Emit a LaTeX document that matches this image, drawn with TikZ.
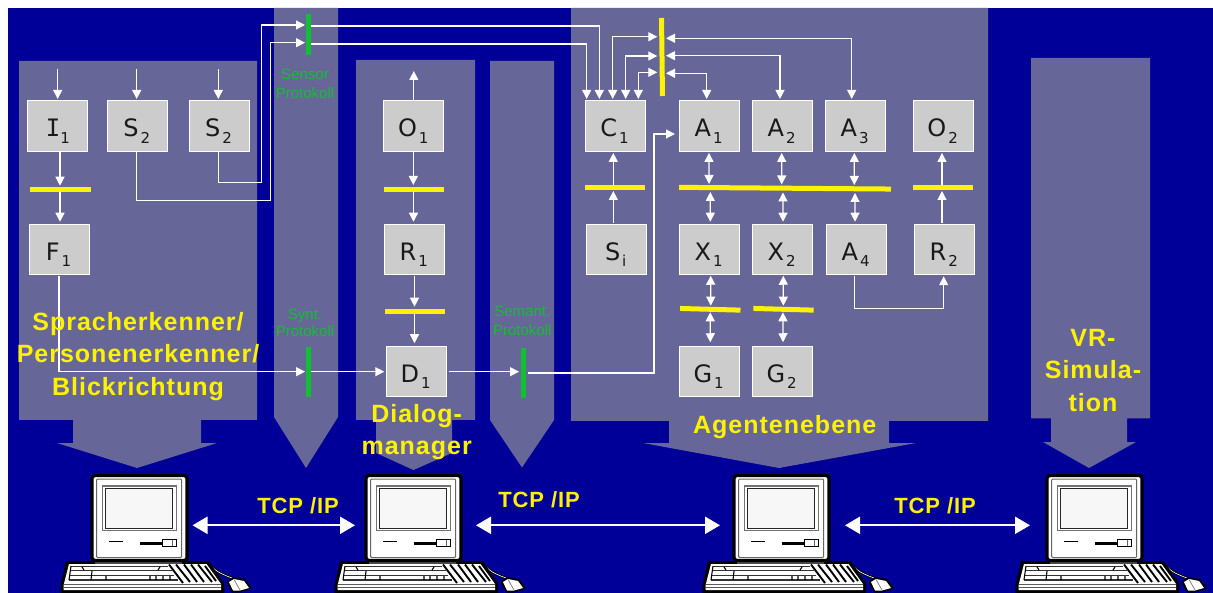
\documentclass[tikz,border=0pt]{standalone}
\usepackage{fontspec}
\setmainfont{Liberation Sans}
\newfontfamily\lblfont[LetterSpace=4]{Liberation Sans}
\newfontfamily\boxfont{DejaVu Sans}
\newfontfamily\boxmono{DejaVu Sans Mono}
\usetikzlibrary{arrows.meta,calc}
\definecolor{navy}{HTML}{000099}
\definecolor{panel}{HTML}{666699}
\definecolor{boxgrey}{HTML}{CCCCCC}
\definecolor{barg}{HTML}{10C030}
\definecolor{labg}{HTML}{14BE32}
\newcommand{\bxt}[2]{{\boxfont\fontsize{24}{24}\selectfont #1\raisebox{-6.7pt}{\kern2pt\fontsize{15}{15}\selectfont #2}\kern1pt}}
\newcommand{\pccomputer}[2]{%
\begin{scope}[xshift=#1pt]
 % mouse cord
 \draw[black,line width=2.4pt] (211,566) .. controls (218,573) and (224,575) .. (232,578);
 \draw[white,line width=.6pt] (211,566) .. controls (218,573) and (224,575) .. (232,578);
 % keyboard
 \fill[black] (66,561) -- (208.5,561) -- (224,583) -- (224,593) -- (60.5,593) -- (60.5,585) -- cycle;
 \fill[white] (69,564) -- (206.5,564) -- (221,584) -- (221,590) -- (63.5,590) -- (63.5,585.5) -- cycle;
 \draw[black!65,line width=1.2pt] (64,584.3) -- (221,584.3);
 \draw[black!65,line width=1.4pt] (63.5,587.6) -- (221,587.6);
 \draw[black!80,line width=1.3pt] (71,566.3) -- (168,566.3) (70.5,570.7) -- (172,570.7) (70,575.2) -- (174,575.2) (69,580) -- (178,580);
 \draw[black,line width=1.1pt] (71,566) -- (69,580);
 \draw[black,line width=1.1pt] (82,567) -- (84,570) (92,571) -- (91,580) (106,576) -- (106,580) (150,576) -- (150,580) (160,567) -- (158,570) (156,576) -- (156,580) (163,576) -- (163,580) (170,576) -- (170,580);
 \draw[black,line width=1.9pt] (169,564.5) -- (183,583) (176,564.5) -- (190,582) (184,564.5) -- (197,582) (191,564.5) -- (204,582) (198,564.5) -- (212,582) (205,566) -- (216,581);
 % mouse
 \fill[black] (226.5,582) -- (233,577) -- (245,579) -- (252,588.5) -- (240,592.5) -- (232,592.5) -- cycle;
 \fill[white] (229,582) -- (234,579) -- (244,581) -- (249,588) -- (240,590.5) -- (233,590.5) -- cycle;
 \draw[gray,line width=.8pt] (234,579.5) -- (240,590);
 % body
 \fill[black!70] (95,558) rectangle (182,564);
 \fill[white] (96,560) rectangle (181,562);
 \node[pcbody] (#2) at (139.5,518) {};
 \draw[black!60,line width=1pt,rounded corners=1pt] (96.7,479) rectangle (181.7,557.5);
 \draw[black!55,line width=1.6pt,fill=white] (102.5,486) rectangle (176.5,530.5);
 \draw[black!85,line width=1pt,fill=black!3] (105,488.3) rectangle (172.5,528);
 \draw[black,line width=1.4pt] (109.3,541.3) -- (123.3,541.3);
 \draw[black,line width=2.6pt] (140,543.3) -- (163,543.3);
 \draw[black,line width=1pt,fill=white] (162.7,539.5) rectangle (176.7,546);
 \draw[black!60,line width=1pt] (172.5,539.5) -- (172.5,546);
\end{scope}}
\tikzset{
 x=1pt,y=-1pt,
 boxnode/.style={draw=white,fill=boxgrey,line width=1pt,minimum width=60pt,minimum height=50.5pt,inner sep=0pt,outer sep=0pt,text=black!90,text height=25pt,text depth=3.6pt},
 ybar/.style={fill=yellow,inner sep=0pt,outer sep=0pt,minimum width=60.4pt,minimum height=5pt},
 gbar/.style={fill=barg,inner sep=0pt,outer sep=0pt,minimum width=5pt},
 conn/.style={draw=white,line width=1.25pt},
 arr/.style={conn,-{Triangle[length=9pt,width=9pt]}},
 dbl/.style={conn,{Triangle[length=9pt,width=9pt]}-{Triangle[length=9pt,width=9pt]}},
 tcpline/.style={draw=white,line width=2.2pt,{Triangle[length=15pt,width=17pt]}-{Triangle[length=15pt,width=17pt]}},
 biglabel/.style={text=yellow,font=\lblfont\bfseries\fontsize{25}{32.6}\selectfont,align=center,inner sep=0pt},
 tcplabel/.style={text=yellow,font=\lblfont\bfseries\fontsize{22}{26}\selectfont,inner sep=0pt},
 grlabel/.style={text=labg,font=\fontsize{15}{#1}\selectfont,align=center,inner sep=0pt},
 pcbody/.style={draw=black,line width=3.2pt,fill=white,rounded corners=3pt,minimum width=95pt,minimum height=85pt,inner sep=0pt,outer sep=0pt},
}
\begin{document}
\begin{tikzpicture}
\useasboundingbox (0,0) rectangle (1213,593);
\fill[white] (0,0) rectangle (1213,593);
\fill[navy] (8,8) rectangle (1213,593);
% panels
\fill[panel] (19,61) -- (257,61) -- (257,420) -- (201,420) -- (201,443) -- (217,443) -- (137,468) -- (57,443) -- (73,443) -- (73,420) -- (19,420) -- cycle;
\fill[panel] (274,8) -- (338,8) -- (338,417) -- (306,468) -- (274,417) -- cycle;
\fill[panel] (356,60) -- (475,60) -- (475,420) -- (452,420) -- (452,453) -- (413.5,470) -- (376,453) -- (376,420) -- (356,420) -- cycle;
\fill[panel] (490,61) -- (554,61) -- (554,420) -- (522,467.5) -- (490,420) -- cycle;
\fill[panel] (571,8) -- (988,8) -- (988,421) -- (889,421) -- (889,443) -- (916,443) -- (779,468) -- (643,443) -- (669,443) -- (669,421) -- (571,421) -- cycle;
\fill[panel] (1031,58) -- (1150,58) -- (1150,418.5) -- (1127,418.5) -- (1127,442) -- (1136,442) -- (1089,468) -- (1043,442) -- (1051,442) -- (1051,418.5) -- (1031,418.5) -- cycle;
% boxes
\node[boxnode] (I1) at (57.8,126.2) {{\boxmono\fontsize{24}{24}\selectfont I}\raisebox{-6.7pt}{\boxfont\fontsize{15}{15}\selectfont 1}};
\node[boxnode] (S2a) at (137.2,126.2) {\bxt{S}{2}};
\node[boxnode] (S2b) at (219,126.2) {\bxt{S}{2}};
\node[boxnode] (F1) at (59,249.5) {\bxt{F}{1}};
\node[boxnode] (O1) at (413.8,126.2) {\bxt{O}{1}};
\node[boxnode] (R1) at (414.2,249.5) {\bxt{R}{1}};
\node[boxnode] (D1) at (416.2,371.5) {\bxt{D}{1}};
\node[boxnode] (C1) at (615,126.2) {\bxt{C}{1}};
\node[boxnode] (A1) at (709.2,126.2) {\bxt{A}{1}};
\node[boxnode] (A2) at (782.2,126.2) {\bxt{A}{2}};
\node[boxnode] (A3) at (855.2,126.2) {\bxt{A}{3}};
\node[boxnode] (O2) at (943.2,126.2) {\bxt{O}{2}};
\node[boxnode] (Si) at (616.2,249.5) {\bxt{S}{i}};
\node[boxnode] (X1) at (709.2,249.5) {\bxt{X}{1}};
\node[boxnode] (X2) at (782.2,249.5) {\bxt{X}{2}};
\node[boxnode] (A4) at (856.2,249.5) {\bxt{A}{4}};
\node[boxnode] (R2) at (944.2,249.5) {\bxt{R}{2}};
\node[boxnode] (G1) at (709.2,371.5) {\bxt{G}{1}};
\node[boxnode] (G2) at (782.2,371.5) {\bxt{G}{2}};
% bars
\node[ybar] (barI) at (60.5,189.2) {};
\node[ybar] (barO) at (413.8,189.2) {};
\node[ybar] (barR) at (415,311.5) {};
\node[ybar] (barC) at (615,187.5) {};
\node[ybar,minimum width=212pt,rotate=-0.46] (big) at (785,188.2) {};
\node[ybar] (barOt) at (943,187.5) {};
\node[ybar,minimum width=5pt,minimum height=78pt,rotate=0.7] (barV) at (662,57) {};
\node[ybar,rotate=-1.6] (barXa) at (710.3,309.3) {};
\node[ybar,rotate=-1.6] (barXb) at (783.5,309.3) {};
\node[gbar,minimum height=41pt] (gSensor) at (308.2,34.5) {};
\node[gbar,minimum height=50pt] (gSynt) at (308.3,371.7) {};
\node[gbar,minimum height=50pt] (gSem) at (523.3,373) {};
% free ends and turning points
\coordinate (inI) at (57.7,69.5);
\coordinate (inSa) at (136.7,69.5);
\coordinate (inSb) at (218.3,69.5);
\coordinate (outO) at (413.8,71);
\coordinate (turnA) at (270.7,200.5);
\coordinate (turnB) at (261.3,182.7);
\coordinate (turnC) at (943.7,308.7);
\coordinate (turnD) at (654,134);
% left column
\draw[arr] (inI) -- ([xshift=-.1pt,yshift=2pt]I1.north);
\draw[arr] (inSa) -- ([xshift=-.5pt,yshift=2pt]S2a.north);
\draw[arr] (inSb) -- ([xshift=-.7pt,yshift=2pt]S2b.north);
\draw[arr] ([xshift=2.2pt,yshift=-1pt]I1.south) -- ([xshift=-.5pt,yshift=1pt]barI.north);
\draw[arr] ([xshift=-.5pt]barI.south) -- ([xshift=1pt,yshift=2.5pt]F1.north);
\draw[arr] ([xshift=-.5pt,yshift=-1pt]S2a.south) |- (turnA) |- ([xshift=-.7pt,yshift=-8.2pt]gSensor.west);
\draw[arr] ([xshift=-.7pt,yshift=-1pt]S2b.south) |- (turnB) |- ([xshift=-.7pt,yshift=9.5pt]gSensor.west);
\draw[arr] ([yshift=8.5pt,xshift=.5pt]gSensor.east) -| ([xshift=-15.7pt,yshift=2pt]C1.north);
\draw[arr] ([yshift=-9.5pt,xshift=.5pt]gSensor.east) -| ([xshift=-28.3pt,yshift=2pt]C1.north);
\draw[arr] ([yshift=-1.5pt]F1.south) |- ([xshift=-.8pt]gSynt.west);
\draw[arr] ([xshift=.5pt]gSynt.east) -- ([xshift=-1.9pt,yshift=-.2pt]D1.west);
% dialog column
\draw[arr] (O1.north) -- (outO);
\draw[arr] ([xshift=-.5pt,yshift=-1pt]O1.south) -- ([xshift=-.5pt,yshift=1.7pt]barO.north);
\draw[arr] ([xshift=-.3pt]barO.south) -- ([xshift=-.7pt,yshift=2.5pt]R1.north);
\draw[arr] ([xshift=.3pt,yshift=-1pt]R1.south) -- ([xshift=-.5pt,yshift=2.3pt]barR.north);
\draw[arr] ([xshift=-.5pt]barR.south) -- ([xshift=-1.7pt,yshift=3pt]D1.north);
\draw[arr] ([xshift=2.5pt,yshift=-.2pt]D1.east) -- ([xshift=-1.8pt,yshift=1.3pt]gSem.west);
\draw[arr] ([xshift=1.7pt]gSem.east) -| (turnD) -- ([xshift=-4.2pt,yshift=-7.8pt]A1.west);
% agents, top
\draw[dbl] ([xshift=-2.3pt,yshift=2pt]C1.north) |- ([xshift=-2.2pt,yshift=20.3pt]barV.west);
\draw[dbl] ([xshift=10.7pt,yshift=2pt]C1.north) |- ([xshift=-2.2pt,yshift=1pt]barV.west);
\draw[dbl] ([xshift=23.3pt,yshift=2pt]C1.north) |- ([xshift=-2.2pt,yshift=-15.3pt]barV.west);
\draw[dbl] ([xshift=1.5pt,yshift=-16.3pt]barV.east) -| ([xshift=-2.5pt,yshift=2pt]A1.north);
\draw[dbl] ([xshift=1.5pt,yshift=1.3pt]barV.east) -| ([xshift=-2.2pt,yshift=2pt]A2.north);
\draw[dbl] ([xshift=1.5pt,yshift=18.7pt]barV.east) -| ([xshift=-3.5pt,yshift=2pt]A3.north);
% agents, middle
\draw[dbl] ([xshift=-.2pt,yshift=-1.5pt]A1.south) -- ([xshift=-76pt,yshift=1.7pt]big.north);
\draw[dbl] ([xshift=-.5pt,yshift=-1.5pt]A2.south) -- ([xshift=-3.3pt,yshift=1.2pt]big.north);
\draw[dbl] ([xshift=-.9pt,yshift=-1.5pt]A3.south) -- ([xshift=69.3pt,yshift=.7pt]big.north);
\draw[dbl] ([xshift=-74.7pt,yshift=-1.3pt]big.south) -- ([xshift=1.1pt,yshift=2.5pt]X1.north);
\draw[dbl] ([xshift=-2pt,yshift=-1.8pt]big.south) -- ([xshift=.8pt,yshift=2.5pt]X2.north);
\draw[dbl] ([xshift=70pt,yshift=-2.3pt]big.south) -- ([xshift=-1.2pt,yshift=2.5pt]A4.north);
\draw[arr] ([xshift=-2.9pt,yshift=1pt]Si.north) -- ([xshift=-1.7pt,yshift=-1pt]barC.south);
\draw[arr] ([xshift=-1.7pt]barC.north) -- ([xshift=-1.7pt,yshift=-1.5pt]C1.south);
\draw[arr] ([xshift=-2.2pt,yshift=1pt]R2.north) -- ([xshift=-1pt,yshift=-1pt]barOt.south);
\draw[arr] ([xshift=-1pt]barOt.north) -- ([xshift=-1.2pt,yshift=-1.5pt]O2.south);
% agents, lower
\draw[dbl] ([xshift=1.5pt,yshift=-1pt]X1.south) -- ([xshift=.4pt,yshift=1.1pt]barXa.north);
\draw[dbl] ([xshift=1.1pt,yshift=-1pt]X2.south) -- ([xshift=-.2pt,yshift=1.1pt]barXb.north);
\draw[dbl] ([yshift=-.5pt]barXa.south) -- ([xshift=1.1pt,yshift=4pt]G1.north);
\draw[dbl] ([xshift=-.5pt,yshift=-.5pt]barXb.south) -- ([xshift=.8pt,yshift=4pt]G2.north);
\draw[conn] ([xshift=-1.5pt,yshift=-1pt]A4.south) |- (turnC);
\draw[arr] (turnC) -- ([xshift=-.5pt,yshift=-1.5pt]R2.south);
% computers
\pccomputer{0}{pca}
\pccomputer{274}{pcb}
\pccomputer{642}{pcc}
\pccomputer{955}{pcd}
\draw[tcpline] ([xshift=5.5pt,yshift=-7.3pt]pca.east) -- ([xshift=-11pt,yshift=-7.3pt]pcb.west);
\draw[tcpline] ([xshift=15pt,yshift=-7.3pt]pcb.east) -- ([xshift=-14pt,yshift=-7.3pt]pcc.west);
\draw[tcpline] ([xshift=16pt,yshift=-7.3pt]pcc.east) -- ([xshift=-17pt,yshift=-7.3pt]pcd.west);
% labels
\node[grlabel=19] (lSensor) at (305,83.5) {Sensor\\Protokoll};
\node[grlabel=17] (lSynt) at (305,322.5) {Synt.\\Protokoll};
\node[grlabel=19] (lSem) at (522.3,321) {Semant.\\Protokoll};
\node[biglabel] (lSpr) at (138,356.5) {Spracherkenner/\\Personenerkenner/\\Blickrichtung};
\node[biglabel] (lDia) at (416.7,432) {Dialog-\\manager};
\node[biglabel] (lAg) at (784.7,427) {Agentenebene};
\node[biglabel] (lVR) at (1093,370.5) {VR-\\Simula-\\tion};
\node[tcplabel] (tA) at (298,505.5) {TCP /IP};
\node[tcplabel] (tB) at (539,499.5) {TCP /IP};
\node[tcplabel] (tC) at (935,505.5) {TCP /IP};
\end{tikzpicture}
\end{document}
